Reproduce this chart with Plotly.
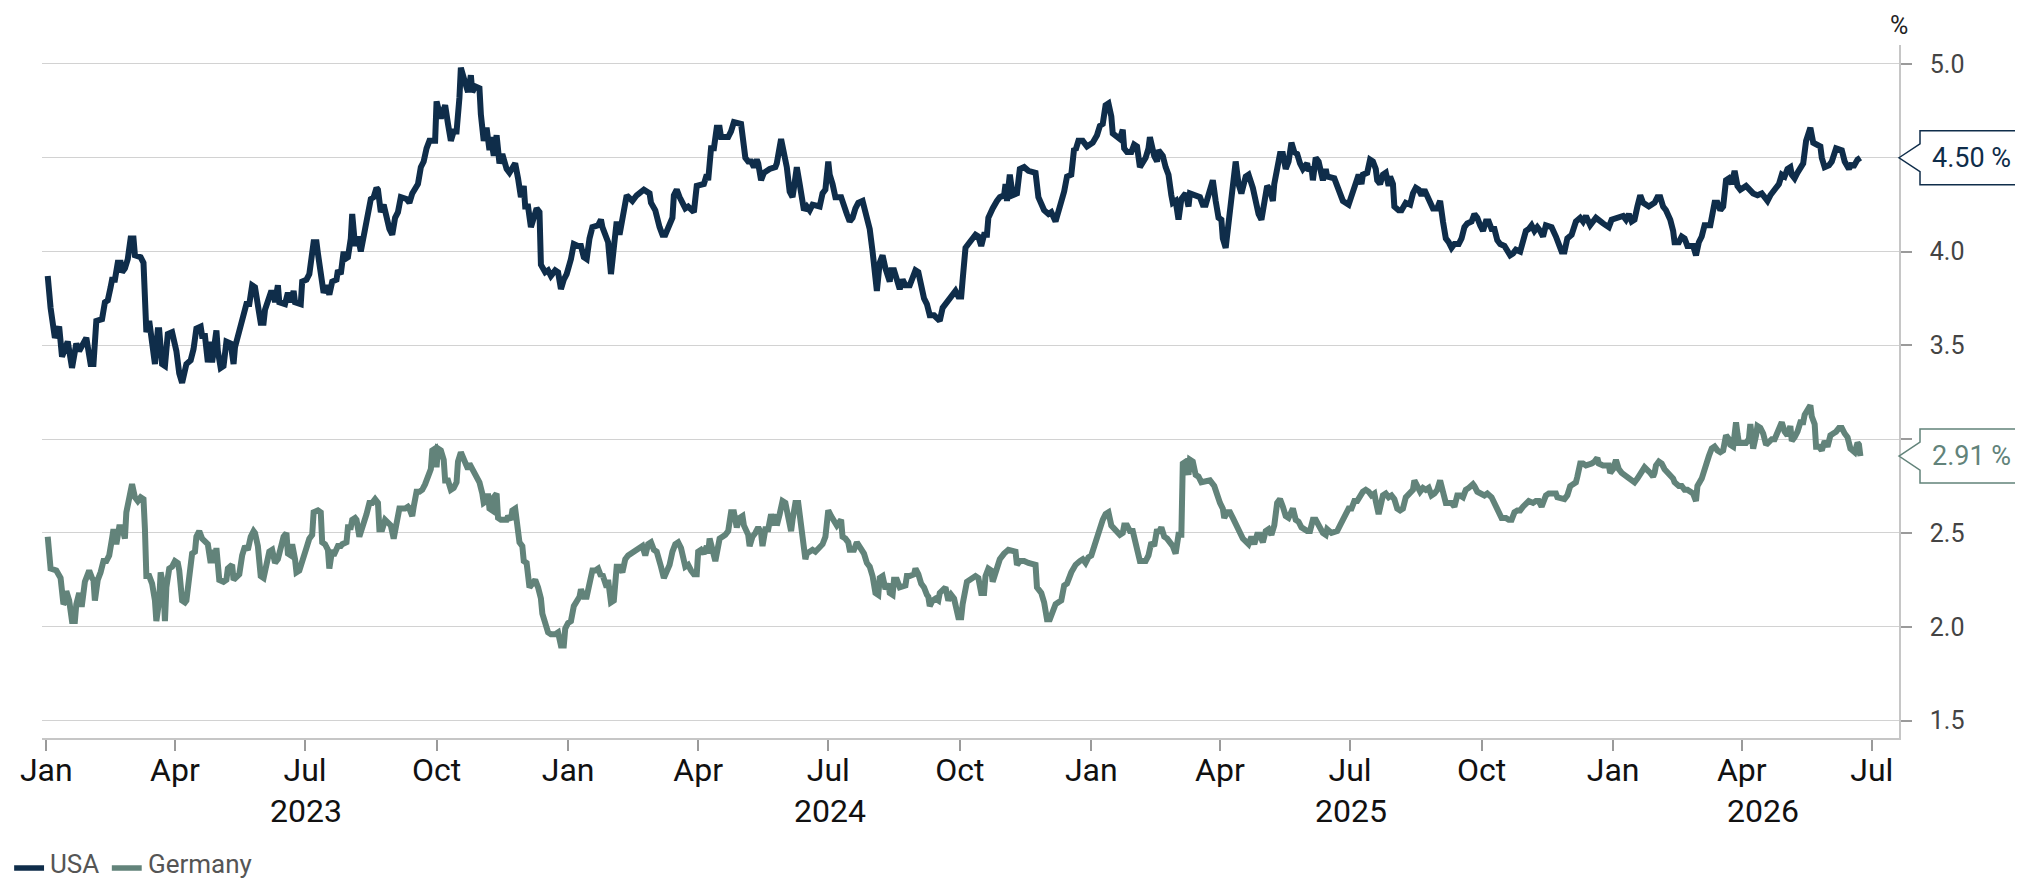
import plotly.graph_objects as go

# 10-year government bond yields, %
usa_dates = [
    "2023-01-02", "2023-01-04", "2023-01-07", "2023-01-10", "2023-01-12", "2023-01-16", "2023-01-19", "2023-01-22", "2023-01-24", "2023-01-29",
    "2023-02-01", "2023-02-03", "2023-02-05", "2023-02-09", "2023-02-11", "2023-02-13", "2023-02-15", "2023-02-16", "2023-02-18", "2023-02-20", "2023-02-22", "2023-02-23", "2023-02-25", "2023-02-27",
    "2023-03-01", "2023-03-03", "2023-03-04", "2023-03-08", "2023-03-10", "2023-03-11", "2023-03-12", "2023-03-14", "2023-03-16", "2023-03-18", "2023-03-20", "2023-03-21", "2023-03-23", "2023-03-25", "2023-03-27", "2023-03-30",
    "2023-04-02", "2023-04-04", "2023-04-06", "2023-04-09", "2023-04-12", "2023-04-14", "2023-04-16", "2023-04-19", "2023-04-20", "2023-04-22", "2023-04-24", "2023-04-26", "2023-04-27", "2023-04-30",
    "2023-05-01", "2023-05-03", "2023-05-05", "2023-05-07", "2023-05-10", "2023-05-12", "2023-05-13", "2023-05-16", "2023-05-19", "2023-05-21", "2023-05-23", "2023-05-25", "2023-05-27", "2023-05-29", "2023-05-31",
    "2023-06-02", "2023-06-03", "2023-06-07", "2023-06-09", "2023-06-10", "2023-06-12", "2023-06-13", "2023-06-17", "2023-06-19", "2023-06-21", "2023-06-23", "2023-06-24", "2023-06-28", "2023-06-29",
    "2023-07-02", "2023-07-04", "2023-07-07", "2023-07-09", "2023-07-10", "2023-07-13", "2023-07-14", "2023-07-16", "2023-07-18", "2023-07-20", "2023-07-23", "2023-07-24", "2023-07-26", "2023-07-28", "2023-07-29", "2023-07-31",
    "2023-08-02", "2023-08-03", "2023-08-05", "2023-08-07", "2023-08-09", "2023-08-12", "2023-08-14", "2023-08-16", "2023-08-18", "2023-08-20", "2023-08-21", "2023-08-23", "2023-08-25", "2023-08-27", "2023-08-29", "2023-08-31",
    "2023-09-02", "2023-09-04", "2023-09-06", "2023-09-10", "2023-09-12", "2023-09-14", "2023-09-18", "2023-09-20", "2023-09-22", "2023-09-24", "2023-09-26", "2023-09-30",
    "2023-10-01", "2023-10-04", "2023-10-06", "2023-10-07", "2023-10-09", "2023-10-11", "2023-10-13", "2023-10-15", "2023-10-17", "2023-10-18", "2023-10-21", "2023-10-23", "2023-10-25", "2023-10-26", "2023-10-28", "2023-10-31",
    "2023-11-01", "2023-11-03", "2023-11-05", "2023-11-07", "2023-11-08", "2023-11-10", "2023-11-12", "2023-11-14", "2023-11-16", "2023-11-19", "2023-11-21", "2023-11-25", "2023-11-27", "2023-11-29",
    "2023-12-01", "2023-12-02", "2023-12-04", "2023-12-06", "2023-12-08", "2023-12-10", "2023-12-12", "2023-12-13", "2023-12-16", "2023-12-18", "2023-12-20", "2023-12-23", "2023-12-25", "2023-12-27", "2023-12-29", "2023-12-31",
    "2024-01-03", "2024-01-05", "2024-01-08", "2024-01-10", "2024-01-12", "2024-01-14", "2024-01-16", "2024-01-18", "2024-01-22", "2024-01-24", "2024-01-25", "2024-01-28", "2024-01-29", "2024-01-31",
    "2024-02-02", "2024-02-04", "2024-02-06", "2024-02-08", "2024-02-11", "2024-02-15", "2024-02-18", "2024-02-23", "2024-02-27", "2024-02-28",
    "2024-03-02", "2024-03-05", "2024-03-07", "2024-03-09", "2024-03-12", "2024-03-14", "2024-03-15", "2024-03-17", "2024-03-19", "2024-03-23", "2024-03-25", "2024-03-28", "2024-03-29", "2024-03-31",
    "2024-04-03", "2024-04-05", "2024-04-07", "2024-04-08", "2024-04-10", "2024-04-12", "2024-04-14", "2024-04-16", "2024-04-17", "2024-04-22", "2024-04-24", "2024-04-26",
    "2024-05-01", "2024-05-03", "2024-05-04", "2024-05-06", "2024-05-08", "2024-05-10", "2024-05-12", "2024-05-13", "2024-05-15", "2024-05-17", "2024-05-21", "2024-05-25", "2024-05-26", "2024-05-29", "2024-05-31",
    "2024-06-02", "2024-06-04", "2024-06-06", "2024-06-07", "2024-06-09", "2024-06-11", "2024-06-13", "2024-06-14", "2024-06-16", "2024-06-18", "2024-06-20", "2024-06-25", "2024-06-27", "2024-06-29",
    "2024-07-01", "2024-07-02", "2024-07-04", "2024-07-06", "2024-07-10", "2024-07-12", "2024-07-14", "2024-07-16", "2024-07-18", "2024-07-20", "2024-07-22", "2024-07-25", "2024-07-27", "2024-07-29", "2024-07-30",
    "2024-08-01", "2024-08-03", "2024-08-04", "2024-08-06", "2024-08-08", "2024-08-10", "2024-08-13", "2024-08-14", "2024-08-16", "2024-08-18", "2024-08-20", "2024-08-22", "2024-08-24", "2024-08-27", "2024-08-29", "2024-08-31",
    "2024-09-02", "2024-09-04", "2024-09-06", "2024-09-08", "2024-09-10", "2024-09-13", "2024-09-15", "2024-09-17", "2024-09-19", "2024-09-22", "2024-09-25", "2024-09-28", "2024-09-30",
    "2024-10-02", "2024-10-03", "2024-10-05", "2024-10-07", "2024-10-10", "2024-10-12", "2024-10-14", "2024-10-16", "2024-10-18", "2024-10-20", "2024-10-21", "2024-10-23", "2024-10-24", "2024-10-27", "2024-10-29",
    "2024-11-01", "2024-11-02", "2024-11-03", "2024-11-05", "2024-11-07", "2024-11-10", "2024-11-12", "2024-11-15", "2024-11-18", "2024-11-23", "2024-11-25", "2024-11-27", "2024-11-29",
    "2024-12-02", "2024-12-04", "2024-12-07", "2024-12-09", "2024-12-11", "2024-12-13", "2024-12-15", "2024-12-18", "2024-12-20", "2024-12-21", "2024-12-23", "2024-12-26", "2024-12-29",
    "2025-01-02", "2025-01-05", "2025-01-07", "2025-01-09", "2025-01-11", "2025-01-13", "2025-01-15", "2025-01-16", "2025-01-19", "2025-01-21", "2025-01-23", "2025-01-24", "2025-01-26", "2025-01-29", "2025-01-31",
    "2025-02-02", "2025-02-04", "2025-02-06", "2025-02-08", "2025-02-10", "2025-02-11", "2025-02-14", "2025-02-16", "2025-02-17", "2025-02-20", "2025-02-22", "2025-02-24", "2025-02-26", "2025-02-27",
    "2025-03-01", "2025-03-03", "2025-03-05", "2025-03-08", "2025-03-10", "2025-03-11", "2025-03-18", "2025-03-20", "2025-03-22", "2025-03-24", "2025-03-26", "2025-03-27", "2025-03-29", "2025-03-31",
    "2025-04-02", "2025-04-03", "2025-04-05", "2025-04-08", "2025-04-10", "2025-04-12", "2025-04-14", "2025-04-16", "2025-04-19", "2025-04-21", "2025-04-24", "2025-04-26", "2025-04-28", "2025-04-30",
    "2025-05-02", "2025-05-04", "2025-05-06", "2025-05-08", "2025-05-09", "2025-05-11", "2025-05-13", "2025-05-15", "2025-05-17", "2025-05-19", "2025-05-21", "2025-05-23", "2025-05-25", "2025-05-27", "2025-05-29",
    "2025-06-01", "2025-06-02", "2025-06-04", "2025-06-05", "2025-06-07", "2025-06-09", "2025-06-12", "2025-06-14", "2025-06-15", "2025-06-20", "2025-06-22", "2025-06-24", "2025-06-26", "2025-06-30",
    "2025-07-03", "2025-07-05", "2025-07-07", "2025-07-09", "2025-07-10", "2025-07-13", "2025-07-15", "2025-07-17", "2025-07-19", "2025-07-20", "2025-07-22", "2025-07-24", "2025-07-26", "2025-07-28", "2025-07-29", "2025-07-31",
    "2025-08-01", "2025-08-04", "2025-08-06", "2025-08-09", "2025-08-12", "2025-08-14", "2025-08-16", "2025-08-18", "2025-08-20", "2025-08-22", "2025-08-24", "2025-08-26", "2025-08-28", "2025-08-31",
    "2025-09-02", "2025-09-04", "2025-09-06", "2025-09-08", "2025-09-10", "2025-09-12", "2025-09-15", "2025-09-17", "2025-09-19", "2025-09-21", "2025-09-24", "2025-09-26", "2025-09-28", "2025-09-30",
    "2025-10-02", "2025-10-04", "2025-10-06", "2025-10-08", "2025-10-10", "2025-10-12", "2025-10-14", "2025-10-17", "2025-10-19", "2025-10-21", "2025-10-23", "2025-10-25", "2025-10-28", "2025-10-30",
    "2025-11-01", "2025-11-03", "2025-11-05", "2025-11-07", "2025-11-09", "2025-11-11", "2025-11-13", "2025-11-15", "2025-11-19", "2025-11-22", "2025-11-24", "2025-11-26", "2025-11-28", "2025-11-30",
    "2025-12-03", "2025-12-05", "2025-12-06", "2025-12-09", "2025-12-11", "2025-12-13", "2025-12-15", "2025-12-16", "2025-12-18", "2025-12-20", "2025-12-25", "2025-12-27", "2025-12-29", "2025-12-31",
    "2026-01-04", "2026-01-08", "2026-01-10", "2026-01-12", "2026-01-14", "2026-01-16", "2026-01-18", "2026-01-20", "2026-01-22", "2026-01-26", "2026-01-30",
    "2026-02-01", "2026-02-03", "2026-02-05", "2026-02-07", "2026-02-10", "2026-02-12", "2026-02-13", "2026-02-16", "2026-02-18", "2026-02-20", "2026-02-22", "2026-02-26", "2026-02-28",
    "2026-03-02", "2026-03-04", "2026-03-06", "2026-03-10", "2026-03-13", "2026-03-15", "2026-03-17", "2026-03-19", "2026-03-21", "2026-03-23", "2026-03-25", "2026-03-27", "2026-03-29", "2026-03-31",
    "2026-04-04", "2026-04-06", "2026-04-09", "2026-04-12", "2026-04-15", "2026-04-17", "2026-04-19", "2026-04-21", "2026-04-23", "2026-04-27", "2026-04-29",
    "2026-05-01", "2026-05-03", "2026-05-05", "2026-05-06", "2026-05-08", "2026-05-10", "2026-05-12", "2026-05-14", "2026-05-16", "2026-05-19", "2026-05-21", "2026-05-23", "2026-05-26", "2026-05-27", "2026-05-29",
    "2026-06-01", "2026-06-03", "2026-06-06", "2026-06-10", "2026-06-12", "2026-06-15", "2026-06-17", "2026-06-18", "2026-06-21", "2026-06-23",
]
usa_yield = [
    3.87, 3.70, 3.54, 3.60, 3.44, 3.52, 3.38, 3.51, 3.47, 3.54,
    3.40, 3.40, 3.63, 3.64, 3.73, 3.74, 3.81, 3.85, 3.85, 3.94, 3.94, 3.89, 3.91, 3.96,
    4.07, 4.07, 3.98, 3.97, 3.94, 3.69, 3.57, 3.63, 3.51, 3.40, 3.58, 3.58, 3.40, 3.39, 3.56, 3.57,
    3.47, 3.35, 3.30, 3.40, 3.42, 3.48, 3.59, 3.60, 3.55, 3.55, 3.41, 3.52, 3.41, 3.58,
    3.47, 3.38, 3.39, 3.52, 3.51, 3.40, 3.49, 3.58, 3.69, 3.72, 3.72, 3.82, 3.81, 3.71, 3.62,
    3.62, 3.69, 3.78, 3.78, 3.73, 3.82, 3.73, 3.72, 3.78, 3.73, 3.79, 3.73, 3.72, 3.84,
    3.85, 3.88, 4.05, 4.05, 3.99, 3.78, 3.78, 3.82, 3.77, 3.84, 3.85, 3.90, 3.88, 4.00, 3.96, 3.97,
    4.07, 4.20, 4.03, 4.08, 4.00, 4.12, 4.21, 4.28, 4.29, 4.34, 4.33, 4.21, 4.25, 4.18, 4.12, 4.09,
    4.18, 4.21, 4.29, 4.28, 4.26, 4.31, 4.36, 4.45, 4.48, 4.55, 4.59, 4.59,
    4.80, 4.71, 4.76, 4.78, 4.68, 4.59, 4.64, 4.64, 4.82, 4.98, 4.90, 4.85, 4.94, 4.85, 4.88, 4.87,
    4.73, 4.59, 4.66, 4.54, 4.61, 4.51, 4.62, 4.47, 4.52, 4.44, 4.42, 4.47, 4.39, 4.29,
    4.35, 4.24, 4.24, 4.13, 4.18, 4.23, 4.21, 3.93, 3.89, 3.90, 3.87, 3.90, 3.89, 3.80, 3.85, 3.88,
    3.96, 4.04, 4.03, 4.03, 3.97, 3.96, 4.07, 4.13, 4.14, 4.17, 4.13, 4.08, 4.05, 3.88,
    4.06, 4.16, 4.09, 4.16, 4.30, 4.27, 4.30, 4.33, 4.31, 4.26,
    4.22, 4.13, 4.09, 4.09, 4.14, 4.18, 4.30, 4.33, 4.29, 4.23, 4.24, 4.21, 4.21, 4.35,
    4.36, 4.36, 4.41, 4.38, 4.55, 4.55, 4.66, 4.66, 4.61, 4.61, 4.64, 4.69,
    4.68, 4.57, 4.50, 4.48, 4.48, 4.45, 4.49, 4.47, 4.38, 4.42, 4.44, 4.45, 4.47, 4.60, 4.54,
    4.45, 4.32, 4.29, 4.34, 4.45, 4.36, 4.27, 4.22, 4.24, 4.22, 4.25, 4.24, 4.31, 4.33,
    4.48, 4.41, 4.36, 4.29, 4.29, 4.23, 4.20, 4.16, 4.18, 4.23, 4.26, 4.27, 4.21, 4.16, 4.12,
    4.00, 3.80, 3.79, 3.94, 3.98, 3.91, 3.84, 3.90, 3.90, 3.85, 3.80, 3.85, 3.82, 3.82, 3.86, 3.90,
    3.89, 3.82, 3.75, 3.72, 3.66, 3.66, 3.64, 3.63, 3.70, 3.73, 3.77, 3.79, 3.76,
    3.76, 3.85, 4.02, 4.04, 4.07, 4.09, 4.08, 4.03, 4.09, 4.09, 4.18, 4.22, 4.23, 4.27, 4.29,
    4.30, 4.36, 4.27, 4.41, 4.30, 4.31, 4.44, 4.45, 4.43, 4.42, 4.29, 4.26, 4.22,
    4.20, 4.21, 4.16, 4.21, 4.25, 4.32, 4.40, 4.41, 4.55, 4.54, 4.59, 4.59, 4.56,
    4.58, 4.62, 4.67, 4.68, 4.78, 4.79, 4.72, 4.63, 4.61, 4.60, 4.65, 4.55, 4.53, 4.53, 4.57,
    4.56, 4.45, 4.48, 4.50, 4.55, 4.61, 4.51, 4.48, 4.54, 4.51, 4.45, 4.41, 4.30, 4.26,
    4.27, 4.17, 4.28, 4.31, 4.24, 4.31, 4.29, 4.25, 4.25, 4.30, 4.36, 4.38, 4.27, 4.18,
    4.17, 4.07, 4.02, 4.23, 4.36, 4.48, 4.36, 4.31, 4.40, 4.41, 4.34, 4.27, 4.20, 4.17,
    4.27, 4.35, 4.33, 4.27, 4.36, 4.45, 4.52, 4.52, 4.44, 4.48, 4.58, 4.53, 4.52, 4.47, 4.44,
    4.47, 4.43, 4.45, 4.38, 4.50, 4.48, 4.38, 4.44, 4.40, 4.39, 4.35, 4.31, 4.27, 4.25,
    4.32, 4.35, 4.41, 4.36, 4.41, 4.42, 4.49, 4.48, 4.44, 4.38, 4.36, 4.41, 4.42, 4.35, 4.40, 4.36,
    4.24, 4.22, 4.22, 4.26, 4.25, 4.31, 4.34, 4.33, 4.30, 4.33, 4.29, 4.26, 4.23, 4.23,
    4.27, 4.16, 4.07, 4.05, 4.02, 4.04, 4.04, 4.07, 4.13, 4.15, 4.16, 4.20, 4.18, 4.14,
    4.11, 4.16, 4.16, 4.12, 4.12, 4.06, 4.04, 4.03, 4.00, 3.98, 3.99, 4.01, 4.00, 4.07,
    4.11, 4.12, 4.14, 4.11, 4.13, 4.11, 4.08, 4.14, 4.13, 4.08, 4.04, 4.00, 4.00, 4.07,
    4.09, 4.13, 4.16, 4.18, 4.16, 4.19, 4.16, 4.14, 4.16, 4.18, 4.15, 4.14, 4.13, 4.17,
    4.18, 4.19, 4.17, 4.20, 4.16, 4.17, 4.24, 4.30, 4.26, 4.24, 4.26,
    4.29, 4.29, 4.24, 4.22, 4.17, 4.11, 4.05, 4.05, 4.08, 4.07, 4.03, 4.03, 3.98,
    4.05, 4.08, 4.14, 4.14, 4.26, 4.26, 4.22, 4.24, 4.38, 4.39, 4.36, 4.43, 4.35, 4.33,
    4.35, 4.33, 4.31, 4.30, 4.31, 4.29, 4.27, 4.30, 4.32, 4.36, 4.41,
    4.40, 4.44, 4.45, 4.41, 4.39, 4.42, 4.45, 4.47, 4.59, 4.66, 4.58, 4.57, 4.56, 4.50, 4.45,
    4.46, 4.48, 4.55, 4.54, 4.48, 4.44, 4.47, 4.45, 4.49, 4.50,
]

germany_dates = [
    "2023-01-02", "2023-01-03", "2023-01-04", "2023-01-08", "2023-01-10", "2023-01-11", "2023-01-13", "2023-01-14", "2023-01-15", "2023-01-17", "2023-01-19", "2023-01-21", "2023-01-22", "2023-01-24", "2023-01-25", "2023-01-26", "2023-01-28", "2023-01-30", "2023-01-31",
    "2023-02-02", "2023-02-03", "2023-02-04", "2023-02-06", "2023-02-08", "2023-02-10", "2023-02-12", "2023-02-14", "2023-02-16", "2023-02-17", "2023-02-19", "2023-02-21", "2023-02-23", "2023-02-25", "2023-02-26", "2023-02-28",
    "2023-03-02", "2023-03-04", "2023-03-06", "2023-03-08", "2023-03-10", "2023-03-11", "2023-03-12", "2023-03-14", "2023-03-16", "2023-03-18", "2023-03-19", "2023-03-21", "2023-03-22", "2023-03-24", "2023-03-25", "2023-03-26", "2023-03-28", "2023-03-30",
    "2023-04-01", "2023-04-03", "2023-04-04", "2023-04-06", "2023-04-08", "2023-04-09", "2023-04-11", "2023-04-13", "2023-04-15", "2023-04-16", "2023-04-18", "2023-04-20", "2023-04-24", "2023-04-26", "2023-04-27", "2023-04-29", "2023-04-30",
    "2023-05-02", "2023-05-05", "2023-05-07", "2023-05-08", "2023-05-11", "2023-05-12", "2023-05-14", "2023-05-16", "2023-05-18", "2023-05-20", "2023-05-22", "2023-05-24", "2023-05-26", "2023-05-27", "2023-05-29", "2023-05-31",
    "2023-06-02", "2023-06-04", "2023-06-06", "2023-06-08", "2023-06-10", "2023-06-12", "2023-06-14", "2023-06-16", "2023-06-18", "2023-06-19", "2023-06-21", "2023-06-22", "2023-06-24", "2023-06-25", "2023-06-27", "2023-06-29", "2023-06-30",
    "2023-07-02", "2023-07-04", "2023-07-06", "2023-07-07", "2023-07-09", "2023-07-10", "2023-07-12", "2023-07-13", "2023-07-15", "2023-07-17", "2023-07-18", "2023-07-20", "2023-07-21", "2023-07-24", "2023-07-26", "2023-07-27", "2023-07-30", "2023-07-31",
    "2023-08-02", "2023-08-03", "2023-08-05", "2023-08-06", "2023-08-08", "2023-08-10", "2023-08-11", "2023-08-13", "2023-08-15", "2023-08-17", "2023-08-19", "2023-08-21", "2023-08-22", "2023-08-24", "2023-08-26", "2023-08-30",
    "2023-09-01", "2023-09-03", "2023-09-05", "2023-09-09", "2023-09-11", "2023-09-12", "2023-09-14", "2023-09-15", "2023-09-17", "2023-09-19", "2023-09-21", "2023-09-23", "2023-09-25", "2023-09-27", "2023-09-28", "2023-09-30",
    "2023-10-01", "2023-10-02", "2023-10-04", "2023-10-06", "2023-10-07", "2023-10-09", "2023-10-11", "2023-10-13", "2023-10-15", "2023-10-16", "2023-10-18", "2023-10-19", "2023-10-21", "2023-10-23", "2023-10-24", "2023-10-26", "2023-10-27", "2023-10-29", "2023-10-31",
    "2023-11-02", "2023-11-03", "2023-11-05", "2023-11-06", "2023-11-07", "2023-11-09", "2023-11-10", "2023-11-12", "2023-11-13", "2023-11-15", "2023-11-19", "2023-11-20", "2023-11-22", "2023-11-23", "2023-11-25", "2023-11-26", "2023-11-28", "2023-11-30",
    "2023-12-01", "2023-12-03", "2023-12-04", "2023-12-05", "2023-12-07", "2023-12-09", "2023-12-11", "2023-12-13", "2023-12-14", "2023-12-16", "2023-12-18", "2023-12-20", "2023-12-23", "2023-12-25", "2023-12-27", "2023-12-29", "2023-12-30",
    "2024-01-01", "2024-01-03", "2024-01-05", "2024-01-07", "2024-01-09", "2024-01-10", "2024-01-12", "2024-01-14", "2024-01-16", "2024-01-18", "2024-01-20", "2024-01-22", "2024-01-24", "2024-01-25", "2024-01-28", "2024-01-29", "2024-01-31",
    "2024-02-02", "2024-02-04", "2024-02-06", "2024-02-08", "2024-02-10", "2024-02-12", "2024-02-14", "2024-02-18", "2024-02-22", "2024-02-24", "2024-02-26", "2024-02-28",
    "2024-03-01", "2024-03-03", "2024-03-05", "2024-03-06", "2024-03-08", "2024-03-10", "2024-03-12", "2024-03-14", "2024-03-16", "2024-03-18", "2024-03-20", "2024-03-23", "2024-03-25", "2024-03-27", "2024-03-29", "2024-03-31",
    "2024-04-01", "2024-04-03", "2024-04-05", "2024-04-07", "2024-04-08", "2024-04-09", "2024-04-11", "2024-04-13", "2024-04-15", "2024-04-16", "2024-04-18", "2024-04-20", "2024-04-22", "2024-04-24", "2024-04-26", "2024-04-28", "2024-04-30",
    "2024-05-02", "2024-05-03", "2024-05-06", "2024-05-07", "2024-05-09", "2024-05-11", "2024-05-13", "2024-05-15", "2024-05-16", "2024-05-18", "2024-05-20", "2024-05-22", "2024-05-24", "2024-05-25", "2024-05-26", "2024-05-28", "2024-05-30",
    "2024-06-01", "2024-06-03", "2024-06-05", "2024-06-06", "2024-06-08", "2024-06-10", "2024-06-12", "2024-06-13", "2024-06-15", "2024-06-16", "2024-06-18", "2024-06-20", "2024-06-22", "2024-06-24", "2024-06-27", "2024-06-29", "2024-06-30",
    "2024-07-01", "2024-07-03", "2024-07-05", "2024-07-07", "2024-07-10", "2024-07-11", "2024-07-13", "2024-07-15", "2024-07-16", "2024-07-19", "2024-07-21", "2024-07-22", "2024-07-24", "2024-07-26", "2024-07-28", "2024-07-30",
    "2024-08-01", "2024-08-03", "2024-08-05", "2024-08-06", "2024-08-08", "2024-08-10", "2024-08-12", "2024-08-13", "2024-08-15", "2024-08-16", "2024-08-18", "2024-08-20", "2024-08-24", "2024-08-25", "2024-08-27", "2024-08-30", "2024-08-31",
    "2024-09-02", "2024-09-04", "2024-09-06", "2024-09-08", "2024-09-09", "2024-09-10", "2024-09-12", "2024-09-14", "2024-09-16", "2024-09-17", "2024-09-19", "2024-09-21", "2024-09-23", "2024-09-25", "2024-09-27", "2024-09-28", "2024-09-30",
    "2024-10-02", "2024-10-03", "2024-10-06", "2024-10-08", "2024-10-10", "2024-10-12", "2024-10-14", "2024-10-16", "2024-10-18", "2024-10-19", "2024-10-21", "2024-10-23", "2024-10-24", "2024-10-26", "2024-10-28", "2024-10-29",
    "2024-11-01", "2024-11-02", "2024-11-04", "2024-11-09", "2024-11-10", "2024-11-12", "2024-11-15", "2024-11-18", "2024-11-23", "2024-11-24", "2024-11-27", "2024-11-29",
    "2024-12-01", "2024-12-03", "2024-12-05", "2024-12-07", "2024-12-09", "2024-12-11", "2024-12-13", "2024-12-15", "2024-12-18", "2024-12-20", "2024-12-21", "2024-12-24", "2024-12-26", "2024-12-28", "2024-12-30",
    "2025-01-01", "2025-01-03", "2025-01-05", "2025-01-07", "2025-01-09", "2025-01-11", "2025-01-13", "2025-01-15", "2025-01-17", "2025-01-21", "2025-01-23", "2025-01-24", "2025-01-26", "2025-01-28", "2025-01-30",
    "2025-02-01", "2025-02-03", "2025-02-04", "2025-02-08", "2025-02-10", "2025-02-12", "2025-02-14", "2025-02-16", "2025-02-17", "2025-02-19", "2025-02-21", "2025-02-23", "2025-02-25", "2025-02-27",
    "2025-03-01", "2025-03-03", "2025-03-05", "2025-03-06", "2025-03-08", "2025-03-10", "2025-03-11", "2025-03-13", "2025-03-15", "2025-03-17", "2025-03-19", "2025-03-25", "2025-03-28", "2025-03-30",
    "2025-04-01", "2025-04-03", "2025-04-04", "2025-04-06", "2025-04-08", "2025-04-10", "2025-04-14", "2025-04-17", "2025-04-21", "2025-04-23", "2025-04-25", "2025-04-27", "2025-04-29",
    "2025-05-01", "2025-05-03", "2025-05-05", "2025-05-07", "2025-05-09", "2025-05-11", "2025-05-13", "2025-05-15", "2025-05-17", "2025-05-19", "2025-05-21", "2025-05-22", "2025-05-24", "2025-05-26", "2025-05-28",
    "2025-06-01", "2025-06-03", "2025-06-05", "2025-06-07", "2025-06-09", "2025-06-12", "2025-06-14", "2025-06-15", "2025-06-18", "2025-06-22", "2025-06-24", "2025-06-26", "2025-06-28", "2025-06-30",
    "2025-07-02", "2025-07-04", "2025-07-06", "2025-07-08", "2025-07-10", "2025-07-12", "2025-07-14", "2025-07-16", "2025-07-18", "2025-07-19", "2025-07-21", "2025-07-24", "2025-07-26", "2025-07-28", "2025-07-30",
    "2025-08-01", "2025-08-03", "2025-08-05", "2025-08-07", "2025-08-09", "2025-08-12", "2025-08-14", "2025-08-15", "2025-08-17", "2025-08-19", "2025-08-21", "2025-08-23", "2025-08-25", "2025-08-27", "2025-08-29", "2025-08-31",
    "2025-09-02", "2025-09-04", "2025-09-06", "2025-09-10", "2025-09-12", "2025-09-14", "2025-09-16", "2025-09-18", "2025-09-20", "2025-09-22", "2025-09-25", "2025-09-26", "2025-09-28",
    "2025-10-03", "2025-10-05", "2025-10-08", "2025-10-10", "2025-10-12", "2025-10-13", "2025-10-15", "2025-10-18", "2025-10-20", "2025-10-22", "2025-10-24", "2025-10-26", "2025-10-28", "2025-10-30",
    "2025-11-01", "2025-11-03", "2025-11-06", "2025-11-08", "2025-11-10", "2025-11-12", "2025-11-13", "2025-11-15", "2025-11-17", "2025-11-22", "2025-11-23", "2025-11-28", "2025-11-30",
    "2025-12-02", "2025-12-04", "2025-12-06", "2025-12-07", "2025-12-09", "2025-12-11", "2025-12-13", "2025-12-17", "2025-12-19", "2025-12-21", "2025-12-22", "2025-12-25", "2025-12-29", "2025-12-30",
    "2026-01-01", "2026-01-03", "2026-01-05", "2026-01-07", "2026-01-09", "2026-01-10", "2026-01-12", "2026-01-14", "2026-01-16", "2026-01-18", "2026-01-20", "2026-01-22", "2026-01-23", "2026-01-27", "2026-01-29", "2026-01-30", "2026-01-31",
    "2026-02-02", "2026-02-04", "2026-02-06", "2026-02-10", "2026-02-12", "2026-02-13", "2026-02-16", "2026-02-18", "2026-02-20", "2026-02-22", "2026-02-24", "2026-02-26", "2026-02-28",
    "2026-03-01", "2026-03-04", "2026-03-06", "2026-03-07", "2026-03-09", "2026-03-11", "2026-03-13", "2026-03-15", "2026-03-17", "2026-03-19", "2026-03-20", "2026-03-21", "2026-03-23", "2026-03-24", "2026-03-26", "2026-03-28", "2026-03-29", "2026-03-30",
    "2026-04-04", "2026-04-06", "2026-04-07", "2026-04-08", "2026-04-09", "2026-04-11", "2026-04-12", "2026-04-14", "2026-04-16", "2026-04-18", "2026-04-20", "2026-04-22", "2026-04-24", "2026-04-26", "2026-04-28", "2026-04-29",
    "2026-05-01", "2026-05-03", "2026-05-05", "2026-05-06", "2026-05-08", "2026-05-10", "2026-05-12", "2026-05-14", "2026-05-15", "2026-05-17", "2026-05-19", "2026-05-20", "2026-05-22", "2026-05-23", "2026-05-25", "2026-05-27", "2026-05-29", "2026-05-31",
    "2026-06-02", "2026-06-04", "2026-06-06", "2026-06-08", "2026-06-10", "2026-06-12", "2026-06-14", "2026-06-16", "2026-06-19", "2026-06-21", "2026-06-22", "2026-06-23",
]
germany_yield = [
    2.48, 2.33, 2.31, 2.30, 2.27, 2.26, 2.12, 2.13, 2.19, 2.14, 2.03, 2.03, 2.12, 2.18, 2.12, 2.12, 2.24, 2.30, 2.30,
    2.26, 2.25, 2.14, 2.25, 2.29, 2.35, 2.35, 2.38, 2.47, 2.52, 2.44, 2.53, 2.53, 2.47, 2.61, 2.70,
    2.76, 2.69, 2.67, 2.69, 2.68, 2.52, 2.27, 2.27, 2.23, 2.14, 2.03, 2.14, 2.29, 2.21, 2.03, 2.21, 2.31, 2.32,
    2.35, 2.34, 2.30, 2.14, 2.13, 2.14, 2.27, 2.39, 2.40, 2.48, 2.51, 2.47, 2.44, 2.34, 2.41, 2.34, 2.42,
    2.25, 2.24, 2.25, 2.31, 2.33, 2.25, 2.27, 2.28, 2.38, 2.43, 2.41, 2.48, 2.51, 2.50, 2.43, 2.27,
    2.26, 2.34, 2.40, 2.41, 2.34, 2.36, 2.44, 2.48, 2.50, 2.39, 2.38, 2.44, 2.36, 2.29, 2.30, 2.36, 2.39,
    2.42, 2.47, 2.49, 2.61, 2.62, 2.62, 2.61, 2.45, 2.44, 2.41, 2.31, 2.41, 2.38, 2.43, 2.43, 2.44, 2.45, 2.53,
    2.53, 2.57, 2.58, 2.57, 2.48, 2.52, 2.54, 2.60, 2.66, 2.66, 2.68, 2.66, 2.52, 2.52, 2.57, 2.54,
    2.47, 2.56, 2.63, 2.63, 2.64, 2.63, 2.59, 2.64, 2.72, 2.72, 2.73, 2.76, 2.81, 2.84, 2.94, 2.95,
    2.85, 2.95, 2.94, 2.89, 2.78, 2.78, 2.73, 2.74, 2.77, 2.88, 2.93, 2.91, 2.86, 2.84, 2.87, 2.84, 2.82, 2.80, 2.77,
    2.71, 2.66, 2.67, 2.71, 2.63, 2.62, 2.69, 2.71, 2.58, 2.57, 2.57, 2.59, 2.57, 2.62, 2.63, 2.54, 2.45, 2.43,
    2.35, 2.34, 2.24, 2.21, 2.23, 2.25, 2.21, 2.15, 2.07, 2.02, 1.97, 1.96, 1.96, 1.97, 1.90, 1.90, 1.99,
    2.02, 2.03, 2.11, 2.14, 2.16, 2.20, 2.16, 2.16, 2.22, 2.30, 2.30, 2.31, 2.27, 2.28, 2.21, 2.25, 2.13,
    2.14, 2.32, 2.32, 2.29, 2.36, 2.38, 2.39, 2.41, 2.43, 2.38, 2.44, 2.45,
    2.41, 2.40, 2.32, 2.32, 2.26, 2.30, 2.33, 2.40, 2.44, 2.45, 2.42, 2.32, 2.33, 2.30, 2.28, 2.28,
    2.40, 2.41, 2.39, 2.43, 2.39, 2.47, 2.41, 2.35, 2.43, 2.47, 2.48, 2.49, 2.51, 2.61, 2.61, 2.53, 2.58,
    2.59, 2.54, 2.49, 2.43, 2.48, 2.50, 2.53, 2.50, 2.43, 2.52, 2.52, 2.60, 2.54, 2.60, 2.54, 2.60, 2.67,
    2.66, 2.59, 2.51, 2.57, 2.66, 2.66, 2.54, 2.52, 2.36, 2.39, 2.40, 2.41, 2.40, 2.42, 2.44, 2.48, 2.61,
    2.62, 2.59, 2.57, 2.54, 2.57, 2.48, 2.47, 2.45, 2.41, 2.41, 2.45, 2.44, 2.41, 2.39, 2.34, 2.32,
    2.27, 2.18, 2.17, 2.26, 2.27, 2.20, 2.23, 2.18, 2.17, 2.25, 2.25, 2.21, 2.22, 2.27, 2.27, 2.28, 2.31,
    2.28, 2.23, 2.21, 2.17, 2.16, 2.11, 2.14, 2.15, 2.14, 2.18, 2.20, 2.21, 2.14, 2.17, 2.15, 2.11, 2.05,
    2.05, 2.12, 2.24, 2.25, 2.26, 2.27, 2.26, 2.18, 2.18, 2.27, 2.31, 2.30, 2.24, 2.28, 2.32, 2.36,
    2.39, 2.40, 2.41, 2.40, 2.33, 2.35, 2.35, 2.34, 2.33, 2.21, 2.18, 2.13,
    2.04, 2.04, 2.09, 2.12, 2.13, 2.14, 2.22, 2.23, 2.29, 2.32, 2.33, 2.35, 2.36, 2.34, 2.37,
    2.38, 2.43, 2.48, 2.52, 2.57, 2.60, 2.61, 2.54, 2.52, 2.49, 2.50, 2.54, 2.54, 2.51, 2.51,
    2.44, 2.40, 2.35, 2.35, 2.38, 2.45, 2.43, 2.52, 2.50, 2.53, 2.48, 2.47, 2.45, 2.43,
    2.39, 2.49, 2.49, 2.87, 2.88, 2.81, 2.89, 2.88, 2.81, 2.80, 2.77, 2.78, 2.75, 2.70,
    2.66, 2.63, 2.58, 2.61, 2.61, 2.58, 2.52, 2.47, 2.44, 2.48, 2.44, 2.49, 2.49,
    2.45, 2.51, 2.52, 2.49, 2.54, 2.66, 2.68, 2.64, 2.59, 2.58, 2.63, 2.63, 2.57, 2.56, 2.53,
    2.51, 2.51, 2.57, 2.57, 2.54, 2.50, 2.49, 2.52, 2.50, 2.51, 2.54, 2.57, 2.59, 2.63,
    2.63, 2.67, 2.67, 2.70, 2.72, 2.73, 2.72, 2.70, 2.71, 2.67, 2.60, 2.70, 2.71, 2.69, 2.70,
    2.68, 2.63, 2.62, 2.63, 2.69, 2.72, 2.73, 2.78, 2.74, 2.72, 2.74, 2.73, 2.74, 2.70, 2.71, 2.73,
    2.78, 2.72, 2.66, 2.66, 2.64, 2.70, 2.70, 2.69, 2.73, 2.74, 2.76, 2.75, 2.72,
    2.70, 2.71, 2.69, 2.66, 2.62, 2.61, 2.58, 2.58, 2.57, 2.57, 2.61, 2.62, 2.62, 2.64,
    2.66, 2.67, 2.66, 2.67, 2.67, 2.64, 2.66, 2.70, 2.71, 2.71, 2.69, 2.68, 2.70,
    2.75, 2.76, 2.77, 2.80, 2.87, 2.87, 2.86, 2.87, 2.88, 2.90, 2.87, 2.86, 2.86, 2.82,
    2.84, 2.89, 2.84, 2.82, 2.81, 2.80, 2.79, 2.78, 2.77, 2.79, 2.81, 2.84, 2.85, 2.82, 2.80, 2.82, 2.86,
    2.88, 2.87, 2.84, 2.81, 2.79, 2.77, 2.75, 2.75, 2.73, 2.73, 2.72, 2.71, 2.67,
    2.75, 2.79, 2.85, 2.86, 2.91, 2.95, 2.96, 2.94, 2.93, 2.94, 2.97, 3.02, 3.00, 2.97, 2.96, 3.09, 3.03, 2.98,
    2.98, 3.00, 3.08, 2.96, 2.95, 3.02, 3.07, 3.06, 3.03, 2.97, 2.99, 3.00, 3.00, 3.03, 3.07, 3.09,
    3.04, 3.02, 3.07, 2.99, 3.01, 3.04, 3.09, 3.09, 3.13, 3.15, 3.18, 3.12, 3.08, 2.96, 2.96, 2.94, 2.99, 2.96,
    3.02, 3.03, 3.04, 3.06, 3.06, 3.03, 3.01, 2.95, 2.93, 2.98, 2.97, 2.91,
]

assert len(usa_dates) == len(usa_yield)
assert len(germany_dates) == len(germany_yield)

quarter_ticks = [
    "2023-01-01", "2023-04-01", "2023-07-01", "2023-10-01",
    "2024-01-01", "2024-04-01", "2024-07-01", "2024-10-01",
    "2025-01-01", "2025-04-01", "2025-07-01", "2025-10-01",
    "2026-01-01", "2026-04-01", "2026-07-01",
]
quarter_labels = ["Jan", "Apr", "Jul", "Oct"] * 3 + ["Jan", "Apr", "Jul"]
year_labels = ["2023", "2024", "2025", "2026"]
year_label_dates = ["2023-07-02", "2024-07-02", "2025-07-02", "2026-04-16"]
y_ticks = [1.5, 2.0, 2.5, 3.0, 3.5, 4.0, 4.5, 5.0]
# 4.5 sits under the USA callout box, so its label is left empty
y_tick_labels = ["1.5", "2.0", "2.5", "3.0", "3.5", "4.0", "", "5.0"]

series_names = ["USA", "Germany"]
NAVY = "#0f2d4a"
SAGE = "#62837a"
FONT = "Roboto, Arial, sans-serif"

fig = go.Figure()
fig.add_trace(go.Scatter(x=usa_dates, y=usa_yield, name=series_names[0], mode="lines",
                         line=dict(color=NAVY, width=6)))
fig.add_trace(go.Scatter(x=germany_dates, y=germany_yield, name=series_names[1], mode="lines",
                         line=dict(color=SAGE, width=6)))

# the page body adds an 8px offset, so the figure is 8px smaller than the window
fig.update_layout(
    width=2015,
    height=875,
    margin=dict(l=30, r=124, t=37, b=145),
    paper_bgcolor="white",
    plot_bgcolor="white",
    font=dict(family=FONT, color="#222"),
    showlegend=False,
    hovermode=False,
)

fig.update_xaxes(
    type="date",
    range=["2022-12-29", "2026-07-20"],
    tickmode="array",
    tickvals=quarter_ticks,
    ticktext=quarter_labels,
    ticks="outside",
    ticklen=11,
    tickwidth=1.5,
    tickcolor="#9a9a9a",
    ticklabelstandoff=-8,
    showline=True,
    linecolor="#c6c6c6",
    linewidth=2,
    showgrid=False,
    zeroline=False,
    tickfont=dict(size=32, color="#111"),
)

fig.update_yaxes(
    side="right",
    range=[1.407, 5.101],
    tickmode="array",
    tickvals=y_ticks,
    ticktext=y_tick_labels,
    ticks="outside",
    ticklen=11,
    tickwidth=1.5,
    tickcolor="#9a9a9a",
    ticklabelstandoff=13,
    showline=True,
    linecolor="#c6c6c6",
    linewidth=1.5,
    showgrid=True,
    gridcolor="#d2d2d2",
    gridwidth=1.3,
    zeroline=False,
    tickfont=dict(size=25, color="#444"),
)

# year labels under the month ticks
for label, when in zip(year_labels, year_label_dates):
    fig.add_annotation(x=when, xref="x", y=0, yref="paper", yshift=-73,
                       text=label, showarrow=False, yanchor="middle",
                       font=dict(size=32, color="#111"))

# unit label above the axis
fig.add_annotation(x=1, xref="paper", y=1, yref="paper", yshift=20,
                   text="%", showarrow=False, xanchor="center", yanchor="middle",
                   font=dict(size=25, color="#222"))

# last-value callouts on the right axis
callout_path = "M0,0 L21,14 L21,27 L150,27 L150,-27 L21,-27 L21,-14 Z"
for last, color in [(usa_yield[-1], NAVY), (germany_yield[-1], SAGE)]:
    fig.add_shape(type="path", path=callout_path, xref="paper", yref="y",
                  xsizemode="pixel", ysizemode="pixel", xanchor=1, yanchor=last,
                  line=dict(color=color, width=1.5), fillcolor="white", layer="above")
    fig.add_annotation(x=1, xref="paper", y=last, yref="y", xshift=31,
                       text=f"{last:.2f} %", showarrow=False, xanchor="left", yanchor="middle",
                       font=dict(size=27, color=color))

# legend drawn below the axis, flush with the left edge of the page
swatch_y = -0.1876
label_y = -0.1818
legend_items = [(series_names[0], NAVY, -0.0150, 0.0011, 0.0035),
                (series_names[1], SAGE, 0.0376, 0.0537, 0.0561)]
for name, color, x0, x1, xt in legend_items:
    fig.add_shape(type="line", xref="paper", yref="paper", x0=x0, x1=x1, y0=swatch_y, y1=swatch_y,
                  line=dict(color=color, width=5.5))
    fig.add_annotation(x=xt, xref="paper", y=label_y, yref="paper", text=name,
                       showarrow=False, xanchor="left", yanchor="middle",
                       font=dict(size=26, color="#555"))

fig.write_html("out.html")
